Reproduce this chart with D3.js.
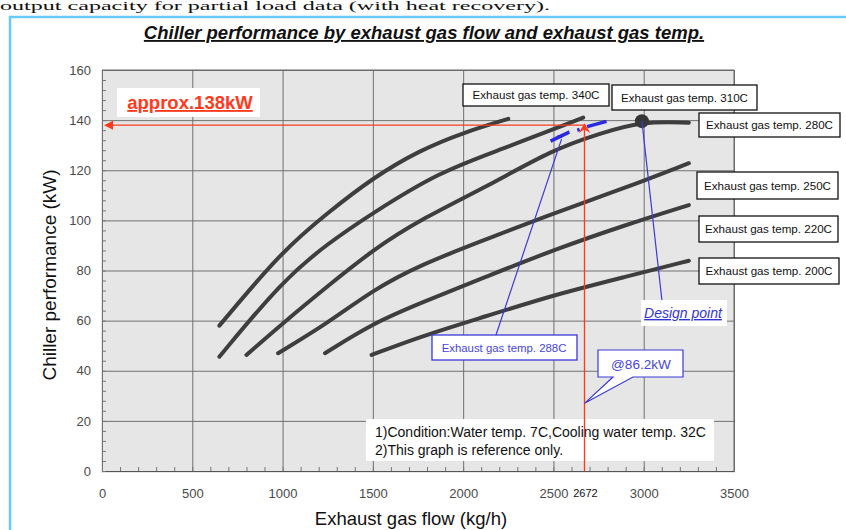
<!DOCTYPE html>
<html>
<head>
<meta charset="utf-8">
<script src="https://cdn.jsdelivr.net/npm/d3@7"></script>
<style>
  body { margin: 0; background: #fff; }
  svg { display: block; }
  text { font-family: "Liberation Sans", Arial, sans-serif; }
</style>
</head>
<body>
<div id="chart"></div>
<script>
// axis ticks
const xTicks = [0, 500, 1000, 1500, 2000, 2500, 3000, 3500];
const yTicks = [0, 20, 40, 60, 80, 100, 120, 140, 160];

// exhaust gas flow (kg/h) / chiller performance (kW)
const flow340 = [650, 1000, 1250, 1500, 1760, 2000, 2250];
const kw340 = [58, 88, 103, 117, 128, 135, 140.5];
const flow310 = [650, 1000, 1250, 1500, 1870, 2200, 2665];
const kw310 = [45.6, 76, 90.8, 103, 119.4, 128, 141];
const flow280 = [800, 1000, 1250, 1500, 1760, 2130, 2500, 2750, 2990, 3250];
const kw280 = [46.3, 58.9, 73.8, 88.2, 100.2, 113.4, 128.4, 134.5, 139.6, 139];
const flow250 = [975, 1250, 1500, 1760, 2130, 2500, 2900, 3250];
const kw250 = [47, 59, 72.2, 82.2, 92.5, 102.8, 113, 122.8];
const flow220 = [1235, 1500, 1760, 2130, 2500, 2900, 3250];
const kw220 = [47, 58.9, 66.9, 77.6, 88.2, 98.2, 106.1];
const flow200 = [1493, 1760, 2130, 2500, 2900, 3250];
const kw200 = [46.3, 53.6, 61.8, 70.2, 77.5, 83.9];

const seriesNames = ['Exhaust gas temp. 340C', 'Exhaust gas temp. 310C', 'Exhaust gas temp. 280C',
  'Exhaust gas temp. 250C', 'Exhaust gas temp. 220C', 'Exhaust gas temp. 200C'];

// 288C estimate (hand drawn dashes)
const flow288 = [2484, 2587, 2637, 2687, 2794];
const kw288 = [131.6, 135.2, 136.1, 137.4, 139.5];

const designFlow = 2990, designKw = 139.6;
const pickFlow = 2672, pickKw = 138;
const calloutKw = 27;

const W = 846, H = 530;
const svg = d3.select('#chart').append('svg')
  .attr('width', W)
  .attr('height', H);

const x = d3.scaleLinear().domain([0, 3500]).range([102, 734]);
const y = d3.scaleLinear().domain([0, 160]).range([471, 70]);

// page bits around the chart
svg.append('text')
  .attr('x', 0).attr('y', 10)
  .style('font-family', '"Liberation Serif", serif')
  .style('font-size', '12px')
  .attr('textLength', 550)
  .attr('lengthAdjust', 'spacingAndGlyphs')
  .attr('fill', '#111')
  .text('output capacity for partial load data (with heat recovery).');

svg.append('rect')
  .attr('x', 10).attr('y', 17)
  .attr('width', 900).attr('height', 600)
  .attr('fill', '#fff')
  .attr('stroke', '#66c9ff')
  .attr('stroke-width', 2.5);

svg.append('text')
  .attr('x', 424).attr('y', 39)
  .attr('text-anchor', 'middle')
  .style('font-size', '18.5px')
  .style('font-weight', 'bold')
  .style('font-style', 'italic')
  .style('text-decoration', 'underline')
  .attr('fill', '#111')
  .text('Chiller performance by exhaust gas flow and exhaust gas temp.');

// plot area
svg.append('rect')
  .attr('x', x(0) - 1).attr('y', y(160))
  .attr('width', x(3500) - x(0) + 2)
  .attr('height', y(0) - y(160) + 2)
  .attr('fill', '#e6e6e6');

const yAxis = svg.append('g')
  .attr('transform', 'translate(' + x(0) + ',0)')
  .call(d3.axisLeft(y).tickValues(yTicks).tickSize(-(x(3500) - x(0))).tickPadding(11));
yAxis.select('.domain').attr('stroke', '#555');
yAxis.selectAll('.tick line').attr('stroke', '#707070');
yAxis.selectAll('.tick text')
  .style('font-size', '13px')
  .attr('fill', '#4a4a4a');

const xAxis = svg.append('g')
  .attr('transform', 'translate(0,' + y(0) + ')')
  .call(d3.axisBottom(x).tickValues(xTicks).tickFormat(d3.format('d'))
    .tickSize(-(y(0) - y(160))).tickPadding(18));
xAxis.select('.domain').attr('stroke', '#555');
xAxis.selectAll('.tick line').attr('stroke', '#707070');
xAxis.selectAll('.tick text')
  .style('font-size', '13px')
  .attr('fill', '#4a4a4a');

// minor ticks
const yMinor = svg.append('g')
  .attr('transform', 'translate(' + x(0) + ',0)')
  .call(d3.axisRight(y).tickValues(d3.range(0, 161, 4)).tickSize(4).tickFormat(''));
yMinor.select('.domain').remove();
yMinor.selectAll('line').attr('stroke', '#777');

const xMinor = svg.append('g')
  .attr('transform', 'translate(0,' + y(0) + ')')
  .call(d3.axisTop(x).tickValues(d3.range(0, 3501, 100)).tickSize(4).tickFormat(''));
xMinor.select('.domain').remove();
xMinor.selectAll('line').attr('stroke', '#777');

// top and right frame of plot
svg.append('path')
  .attr('d', 'M' + x(0) + ',' + y(160) + 'H' + x(3500) + 'V' + y(0))
  .attr('fill', 'none')
  .attr('stroke', '#666');

svg.append('text')
  .attr('x', x(pickFlow) + 1).attr('y', 497)
  .attr('text-anchor', 'middle')
  .style('font-size', '11px')
  .attr('fill', '#111')
  .text(pickFlow);

// axis titles
svg.append('text')
  .attr('x', 411).attr('y', 525)
  .attr('text-anchor', 'middle')
  .style('font-size', '18.5px')
  .attr('fill', '#111')
  .text('Exhaust gas flow (kg/h)');

svg.append('text')
  .attr('transform', 'translate(56,275) rotate(-90)')
  .attr('text-anchor', 'middle')
  .style('font-size', '19px')
  .attr('fill', '#111')
  .text('Chiller performance (kW)');

// curves
const series = [
  [flow340, kw340], [flow310, kw310], [flow280, kw280],
  [flow250, kw250], [flow220, kw220], [flow200, kw200]
];
const line = d3.line()
  .x(d => x(d[0]))
  .y(d => y(d[1]))
  .curve(d3.curveBasis);

svg.selectAll('.curve')
  .data(series)
  .enter().append('path')
  .attr('class', 'curve')
  .attr('d', s => line(s[0].map((f, i) => [f, s[1][i]])))
  .attr('fill', 'none')
  .attr('stroke', '#3e3e3e')
  .attr('stroke-width', 4)
  .attr('stroke-linecap', 'round');

svg.append('circle')
  .attr('cx', x(designFlow)).attr('cy', y(designKw))
  .attr('r', 7)
  .attr('fill', '#363636');

// red reading lines
const red = '#ff3a1c';
svg.append('path')
  .attr('d', 'M' + (x(0) + 8) + ',' + y(pickKw) + 'H' + x(pickFlow) + 'V' + y(0))
  .attr('fill', 'none')
  .attr('stroke', red)
  .attr('stroke-width', 1.3);
svg.append('path')
  .attr('d', 'M' + (x(0) + 2) + ',' + y(pickKw) + 'l9,-4.5v9z')
  .attr('fill', red);
svg.append('path')
  .attr('d', 'M' + x(pickFlow) + ',' + (y(pickKw) - 2) + 'l-6,10l6,-4l6,4z')
  .attr('fill', red);

// blue 288C sketch
const blue = '#3a3ad6';
svg.append('path')
  .attr('d', d3.line().x(d => x(d[0])).y(d => y(d[1]))(flow288.map((f, i) => [f, kw288[i]])))
  .attr('fill', 'none')
  .attr('stroke', '#2a2ae0')
  .attr('stroke-width', 3.5)
  .attr('stroke-dasharray', '21 8 2.5 8 26');

const tipX = x(2545), tipY = y(132.4);
svg.append('line')
  .attr('x1', 496).attr('y1', 335)
  .attr('x2', tipX).attr('y2', tipY)
  .attr('stroke', blue)
  .attr('stroke-width', 1.2);
svg.append('path')
  .attr('d', 'M' + tipX + ',' + (tipY - 1) + 'l-6,-2l9,-3z')
  .attr('fill', '#2a2ae0');

svg.append('line')
  .attr('x1', x(designFlow)).attr('y1', y(designKw))
  .attr('x2', 662).attr('y2', 301)
  .attr('stroke', blue)
  .attr('stroke-width', 1.2);

// temperature label boxes
const labelBoxes = [
  { x: 463, y: 84, w: 146, h: 22 },
  { x: 612, y: 85, w: 145, h: 25 },
  { x: 699, y: 113, w: 141, h: 24 },
  { x: 697, y: 172, w: 141, h: 27 },
  { x: 699, y: 216, w: 139, h: 26 },
  { x: 699, y: 258, w: 140, h: 26 }
];
const lab = svg.selectAll('.lab')
  .data(seriesNames)
  .enter().append('g')
  .attr('class', 'lab')
  .attr('transform', (d, i) => 'translate(' + labelBoxes[i].x + ',' + labelBoxes[i].y + ')');
lab.append('rect')
  .attr('width', (d, i) => labelBoxes[i].w)
  .attr('height', (d, i) => labelBoxes[i].h)
  .attr('fill', '#fff')
  .attr('stroke', '#111')
  .attr('stroke-width', 1.3);
lab.append('text')
  .attr('x', (d, i) => labelBoxes[i].w / 2)
  .attr('y', (d, i) => labelBoxes[i].h / 2)
  .attr('dy', '.36em')
  .attr('text-anchor', 'middle')
  .style('font-size', '11.6px')
  .attr('fill', '#111')
  .text(d => d);

// 288C box
svg.append('rect')
  .attr('x', 432).attr('y', 335)
  .attr('width', 145).attr('height', 25)
  .attr('fill', '#fff')
  .attr('stroke', blue)
  .attr('stroke-width', 1.3);
svg.append('text')
  .attr('x', 504).attr('y', 351.5)
  .attr('text-anchor', 'middle')
  .style('font-size', '11.4px')
  .attr('fill', '#4646dc')
  .text('Exhaust gas temp. 288C');

// design point label
svg.append('rect')
  .attr('x', 641).attr('y', 300)
  .attr('width', 86).attr('height', 26)
  .attr('fill', '#fff');
svg.append('text')
  .attr('x', 683).attr('y', 318)
  .attr('text-anchor', 'middle')
  .style('font-size', '14px')
  .style('font-style', 'italic')
  .style('text-decoration', 'underline')
  .attr('fill', '#3434d4')
  .text('Design point');

// approx label
svg.append('rect')
  .attr('x', 117).attr('y', 88)
  .attr('width', 143).attr('height', 29)
  .attr('fill', '#fff');
svg.append('text')
  .attr('x', 190).attr('y', 109)
  .attr('text-anchor', 'middle')
  .style('font-size', '18.5px')
  .style('font-weight', 'bold')
  .style('text-decoration', 'underline')
  .attr('fill', red)
  .text('approx.' + pickKw + 'kW');

// note box
svg.append('rect')
  .attr('x', 366).attr('y', 419)
  .attr('width', 348).attr('height', 42)
  .attr('fill', '#fff');
svg.append('text')
  .attr('x', 375).attr('y', 436.5)
  .style('font-size', '14px')
  .attr('fill', '#111')
  .text('1)Condition:Water temp. 7C,Cooling water temp. 32C');
svg.append('text')
  .attr('x', 375).attr('y', 455)
  .style('font-size', '14px')
  .attr('fill', '#111')
  .text('2)This graph is reference only.');

// red vertical passes over the note box
svg.append('line')
  .attr('x1', x(pickFlow)).attr('x2', x(pickFlow))
  .attr('y1', 419).attr('y2', 461)
  .attr('stroke', red)
  .attr('stroke-width', 1.3);

// @86.2kW callout
const cTipX = x(pickFlow), cTipY = y(calloutKw);
svg.append('path')
  .attr('d', 'M598,350H683V377H633L' + cTipX + ',' + cTipY + 'L613,377H598Z')
  .attr('fill', '#fff')
  .attr('stroke', blue)
  .attr('stroke-width', 1.2);
svg.append('text')
  .attr('x', 641).attr('y', 369)
  .attr('text-anchor', 'middle')
  .style('font-size', '13.6px')
  .attr('fill', '#4646dc')
  .text('@86.2kW');
</script>
</body>
</html>
